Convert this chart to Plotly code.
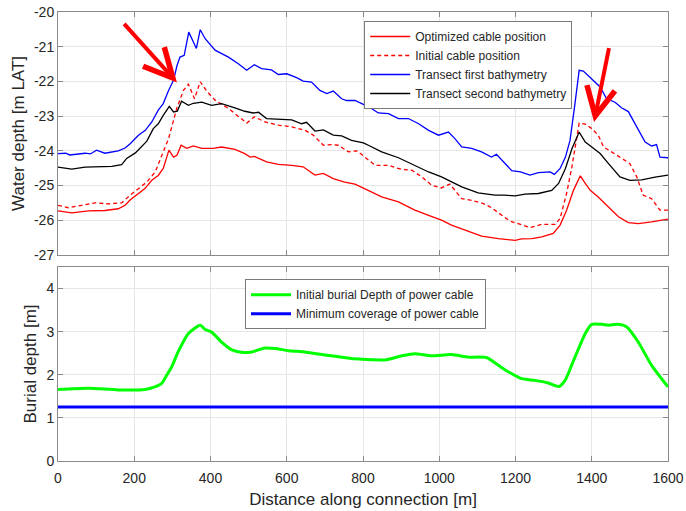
import plotly.graph_objects as go
from plotly.subplots import make_subplots

# ---- Top panel: water depth [m LAT] ----
blue_x = [0, 20, 31, 50, 71, 85, 101, 123, 158, 176, 190, 211, 229, 246, 263, 276, 290, 303, 312, 320, 331,
          343, 363, 373, 386, 412, 447, 473, 495, 515, 534, 560, 578, 600, 626, 643, 665, 687, 705, 722, 744,
          757, 779, 801, 814, 840, 867, 893, 919, 946, 972, 998, 1024, 1041, 1059, 1085, 1111, 1137, 1150,
          1172, 1190, 1213, 1238, 1260, 1291, 1302, 1317, 1331, 1343, 1356, 1367, 1378, 1400, 1422, 1439,
          1461, 1478, 1496, 1518, 1540, 1557, 1570, 1579, 1600]
blue_y = [-24.08, -24.07, -24.12, -24.10, -24.07, -24.09, -23.98, -24.07, -24.00, -23.92, -23.79, -23.55,
          -23.41, -23.17, -22.83, -22.64, -22.26, -21.97, -21.55, -21.30, -21.25, -20.58, -21.05, -20.51,
          -20.77, -21.10, -21.30, -21.49, -21.68, -21.52, -21.63, -21.67, -21.80, -21.78, -21.89, -21.99,
          -22.02, -22.26, -22.35, -22.28, -22.50, -22.55, -22.55, -22.66, -22.72, -22.91, -22.93, -23.07,
          -23.07, -23.22, -23.41, -23.55, -23.46, -23.65, -23.89, -23.93, -24.03, -24.18, -24.10, -24.36,
          -24.57, -24.61, -24.70, -24.63, -24.61, -24.68, -24.51, -24.18, -23.70, -22.64, -21.68, -21.70,
          -21.92, -22.16, -22.50, -22.60, -22.76, -22.87, -23.31, -23.75, -23.86, -23.82, -24.18, -24.20]

black_x = [0, 36, 71, 106, 141, 167, 180, 203, 215, 233, 250, 263, 276, 292, 303, 313, 324, 342, 355, 377,
           403, 429, 464, 490, 512, 526, 547, 578, 613, 639, 652, 674, 696, 722, 744, 770, 801, 814, 849, 893,
           936, 972, 1006, 1032, 1059, 1102, 1146, 1172, 1199, 1225, 1260, 1295, 1313, 1331, 1348, 1367, 1383,
           1400, 1422, 1444, 1474, 1500, 1531, 1566, 1600]
black_y = [-24.47, -24.53, -24.47, -24.47, -24.45, -24.40, -24.22, -24.06, -23.93, -23.72, -23.36, -23.22,
           -22.98, -22.72, -22.88, -22.86, -22.57, -22.69, -22.63, -22.60, -22.69, -22.64, -22.76, -22.86,
           -22.91, -22.89, -23.07, -23.09, -23.11, -23.22, -23.18, -23.43, -23.40, -23.55, -23.57, -23.70,
           -23.77, -23.84, -24.03, -24.20, -24.42, -24.61, -24.75, -24.90, -25.04, -25.21, -25.28, -25.28,
           -25.30, -25.25, -25.23, -25.14, -24.94, -24.51, -23.94, -23.46, -23.75, -23.89, -24.08, -24.37,
           -24.75, -24.85, -24.84, -24.76, -24.70]

opt_x = [0, 36, 80, 123, 158, 176, 189, 211, 228, 246, 263, 276, 291, 303, 312, 323, 338, 355, 377, 407,
         429, 464, 490, 504, 515, 547, 578, 613, 643, 674, 696, 722, 752, 779, 814, 849, 893, 936, 972,
         1006, 1032, 1067, 1111, 1155, 1199, 1216, 1243, 1269, 1299, 1317, 1334, 1352, 1370, 1383, 1396,
         1417, 1444, 1470, 1496, 1522, 1557, 1579, 1600]
opt_y = [-25.73, -25.79, -25.73, -25.72, -25.67, -25.57, -25.42, -25.23, -25.09, -24.85, -24.71, -24.51,
         -23.98, -24.18, -24.13, -23.84, -23.93, -23.86, -23.93, -23.93, -23.89, -23.96, -24.08, -24.18,
         -24.16, -24.32, -24.39, -24.42, -24.46, -24.70, -24.65, -24.80, -24.90, -24.96, -25.14, -25.33,
         -25.47, -25.71, -25.86, -26.00, -26.14, -26.28, -26.46, -26.53, -26.58, -26.54, -26.53, -26.48,
         -26.38, -26.14, -25.71, -25.14, -24.72, -24.94, -25.14, -25.33, -25.62, -25.90, -26.07, -26.10,
         -26.05, -26.00, -25.97]

init_x = [0, 27, 62, 97, 132, 167, 189, 211, 233, 255, 272, 290, 303, 312, 329, 342, 358, 373, 390, 412,
          447, 473, 495, 515, 543, 578, 613, 648, 670, 696, 718, 735, 762, 784, 805, 832, 867, 902, 928,
          954, 980, 1005, 1028, 1059, 1085, 1116, 1137, 1164, 1186, 1207, 1238, 1269, 1304, 1317, 1334,
          1348, 1360, 1367, 1383, 1400, 1417, 1431, 1452, 1474, 1500, 1518, 1535, 1557, 1579, 1600]
init_y = [-25.57, -25.64, -25.57, -25.50, -25.53, -25.50, -25.28, -25.09, -24.90, -24.61, -24.13, -23.65,
          -23.12, -22.76, -22.26, -22.08, -22.50, -22.01, -22.28, -22.54, -22.78, -23.02, -23.20, -23.02,
          -23.17, -23.26, -23.31, -23.41, -23.55, -23.84, -23.82, -23.84, -24.03, -24.00, -24.18, -24.42,
          -24.42, -24.54, -24.56, -24.75, -24.99, -25.07, -24.96, -25.38, -25.43, -25.52, -25.64, -25.86,
          -26.03, -26.10, -26.21, -26.12, -26.12, -25.95, -25.23, -24.46, -23.70, -23.20, -23.23, -23.36,
          -23.55, -23.89, -24.03, -24.18, -24.37, -24.75, -25.28, -25.38, -25.71, -25.71]

# ---- Bottom panel: burial depth [m] ----
green_x = [0, 80, 158, 228, 254, 272, 285, 298, 315, 342, 373, 386, 403, 429, 456, 486, 508, 543, 570,
           605, 648, 683, 727, 779, 822, 862, 902, 936, 980, 1032, 1076, 1124, 1155, 1181, 1216, 1251,
           1286, 1314, 1330, 1356, 1383, 1400, 1426, 1444, 1470, 1492, 1522, 1557, 1600]
green_y = [1.66, 1.69, 1.65, 1.66, 1.72, 1.80, 1.99, 2.18, 2.53, 2.96, 3.15, 3.05, 2.99, 2.76, 2.58, 2.52,
           2.53, 2.62, 2.61, 2.56, 2.53, 2.48, 2.43, 2.37, 2.35, 2.35, 2.44, 2.49, 2.44, 2.47, 2.41, 2.40,
           2.22, 2.07, 1.91, 1.87, 1.81, 1.73, 1.87, 2.41, 2.96, 3.17, 3.17, 3.15, 3.17, 3.11, 2.76, 2.22,
           1.72]
cover_x = [0, 200, 400, 500, 600, 800, 1000, 1200, 1400, 1600]
cover_y = [1.25, 1.25, 1.25, 1.26, 1.25, 1.25, 1.25, 1.25, 1.25, 1.25]

x_ticks = [0, 200, 400, 600, 800, 1000, 1200, 1400, 1600]
x_labels = ["0", "200", "400", "600", "800", "1000", "1200", "1400", "1600"]
top_ticks = [-27, -26, -25, -24, -23, -22, -21, -20]
top_labels = ["-27", "-26", "-25", "-24", "-23", "-22", "-21", "-20"]
bot_ticks = [0, 1, 2, 3, 4]
bot_labels = ["0", "1", "2", "3", "4"]

FONT = "Liberation Sans, Arial, sans-serif"
AX = "#8a8a8a"
GRID = "#e6e6e6"
TXT = "#262626"

fig = make_subplots(rows=2, cols=1, shared_xaxes=False, vertical_spacing=0.0)

fig.add_trace(go.Scatter(x=opt_x, y=opt_y, mode="lines", name="Optimized cable position",
                         line=dict(color="#ff0000", width=1.3)), row=1, col=1)
fig.add_trace(go.Scatter(x=init_x, y=init_y, mode="lines", name="Initial cable position",
                         line=dict(color="#ff0000", width=1.3, dash="4px,3px")), row=1, col=1)
fig.add_trace(go.Scatter(x=blue_x, y=blue_y, mode="lines", name="Transect first bathymetry",
                         line=dict(color="#0000ff", width=1.3)), row=1, col=1)
fig.add_trace(go.Scatter(x=black_x, y=black_y, mode="lines", name="Transect second bathymetry",
                         line=dict(color="#000000", width=1.3)), row=1, col=1)

fig.add_trace(go.Scatter(x=green_x, y=green_y, mode="lines", name="Initial burial Depth of power cable",
                         line=dict(color="#00ff00", width=3, shape="spline", smoothing=0.6),
                         legend="legend2"), row=2, col=1)
fig.add_trace(go.Scatter(x=cover_x, y=cover_y, mode="lines", name="Minimum coverage of power cable",
                         line=dict(color="#0000ff", width=3), legend="legend2"), row=2, col=1)

axis_common = dict(showline=True, linecolor=AX, linewidth=1, mirror="ticks", ticks="inside",
                   ticklen=5, tickcolor=AX, showgrid=True, gridcolor=GRID, gridwidth=1,
                   zeroline=False, automargin=False,
                   tickfont=dict(family=FONT, size=14, color=TXT))

fig.update_xaxes(range=[0, 1600], tickvals=x_ticks, ticktext=x_labels, **axis_common)
fig.update_xaxes(showticklabels=False, row=1, col=1)
fig.update_xaxes(title=dict(text="Distance along connection [m]", font=dict(family=FONT, size=17, color=TXT),
                            standoff=8), ticklabelstandoff=4, row=2, col=1)
fig.update_yaxes(**axis_common)
fig.update_yaxes(range=[-27, -20], tickvals=top_ticks, ticktext=top_labels,
                 title=dict(text="Water depth [m LAT]", font=dict(family=FONT, size=17, color=TXT), standoff=5),
                 row=1, col=1)
fig.update_yaxes(range=[0, 4.5], tickvals=bot_ticks, ticktext=bot_labels,
                 title=dict(text="Burial depth [m]", font=dict(family=FONT, size=17, color=TXT), standoff=5),
                 row=2, col=1)

fig.update_layout(
    width=686, height=511,
    margin=dict(l=58, r=18, t=12, b=50, autoexpand=False),
    paper_bgcolor="white", plot_bgcolor="white",
    font=dict(family=FONT, color=TXT),
    yaxis=dict(domain=[0.459, 1.0]),
    yaxis2=dict(domain=[0.0, 0.432]),
    legend=dict(x=0.502, y=0.98, xanchor="left", yanchor="top", bgcolor="white",
                bordercolor="#7a7a7a", borderwidth=1, font=dict(family=FONT, size=12, color=TXT),
                itemwidth=40, tracegroupgap=0),
    legend2=dict(x=0.3066, y=0.405, xanchor="left", yanchor="top", bgcolor="white",
                 bordercolor="#7a7a7a", borderwidth=1, font=dict(family=FONT, size=12, color=TXT),
                 itemwidth=40),
    showlegend=True,
)

# Red arrows pointing at features
fig.add_annotation(x=312, y=-22.03, ax=170, ay=-20.3, xref="x", yref="y", axref="x", ayref="y",
                   text="", showarrow=True, arrowhead=5, arrowsize=1.4, arrowwidth=4, arrowcolor="#ff0000",
                   standoff=0)
fig.add_annotation(x=1406, y=-23.17, ax=1446, ay=-21.0, xref="x", yref="y", axref="x", ayref="y",
                   text="", showarrow=True, arrowhead=5, arrowsize=1.4, arrowwidth=4, arrowcolor="#ff0000",
                   standoff=0)

fig.write_html("out.html", config={"displayModeBar": False},
               post_script="document.body.style.margin='0px';document.body.style.overflow='hidden';")
